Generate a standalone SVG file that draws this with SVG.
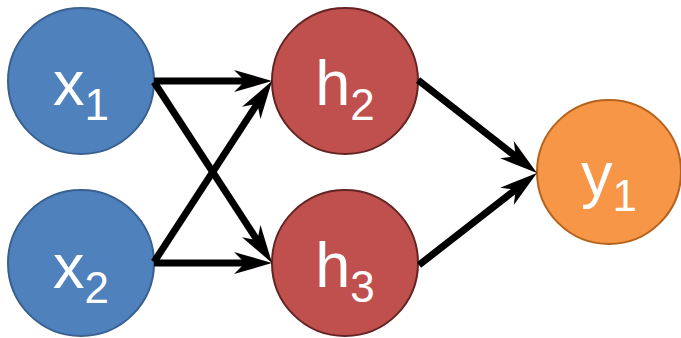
<svg xmlns="http://www.w3.org/2000/svg" width="681" height="338" viewBox="0 0 681 338">
  <style>
    .blue { fill: #4F81BD; stroke: #3A6090; stroke-width: 2; }
    .red { fill: #C0504D; stroke: #632523; stroke-width: 2; }
    .orange { fill: #F79646; stroke: #B5631C; stroke-width: 2; }
    .lbl { font-family: "Liberation Sans", Arial, sans-serif; font-size: 63px; fill: #FFFFFF; text-anchor: middle; }
    .sub { font-size: 44px; }
    .edge { stroke: #000000; stroke-width: 7; fill: none; marker-end: url(#arr); }
  </style>
  <defs>
    <marker id="arr" markerUnits="userSpaceOnUse" markerWidth="40" markerHeight="24" refX="18" refY="12" orient="auto" viewBox="0 0 40 24">
      <path d="M38,12 L0,1 L11,12 L0,23 Z" fill="#000000"/>
    </marker>
  </defs>
  <g id="node-x1">
    <circle class="blue" cx="81" cy="81" r="73"/>
    <text class="lbl" x="81" y="105">x<tspan class="sub" dy="15">1</tspan></text>
  </g>
  <g id="node-x2">
    <circle class="blue" cx="81" cy="263" r="73"/>
    <text class="lbl" x="81" y="288">x<tspan class="sub" dy="15">2</tspan></text>
  </g>
  <g id="node-h2">
    <circle class="red" cx="345" cy="81" r="73"/>
    <text class="lbl" x="345" y="105">h<tspan class="sub" dy="15">2</tspan></text>
  </g>
  <g id="node-h3">
    <circle class="red" cx="345" cy="263" r="73"/>
    <text class="lbl" x="345" y="287">h<tspan class="sub" dy="15">3</tspan></text>
  </g>
  <g id="node-y1">
    <circle class="orange" cx="609" cy="172" r="72"/>
    <text class="lbl" x="609" y="196">y<tspan class="sub" dy="15">1</tspan></text>
  </g>
  <g id="connectors">
    <line class="edge" x1="154" y1="81" x2="252" y2="81"/>
    <line class="edge" x1="154" y1="82" x2="261.1" y2="246.2"/>
    <line class="edge" x1="154" y1="262" x2="261.1" y2="97.8"/>
    <line class="edge" x1="154" y1="263" x2="252" y2="263"/>
    <line class="edge" x1="418" y1="80" x2="521.2" y2="160.7"/>
    <line class="edge" x1="419" y1="265" x2="521.2" y2="185.3"/>
  </g>
</svg>
